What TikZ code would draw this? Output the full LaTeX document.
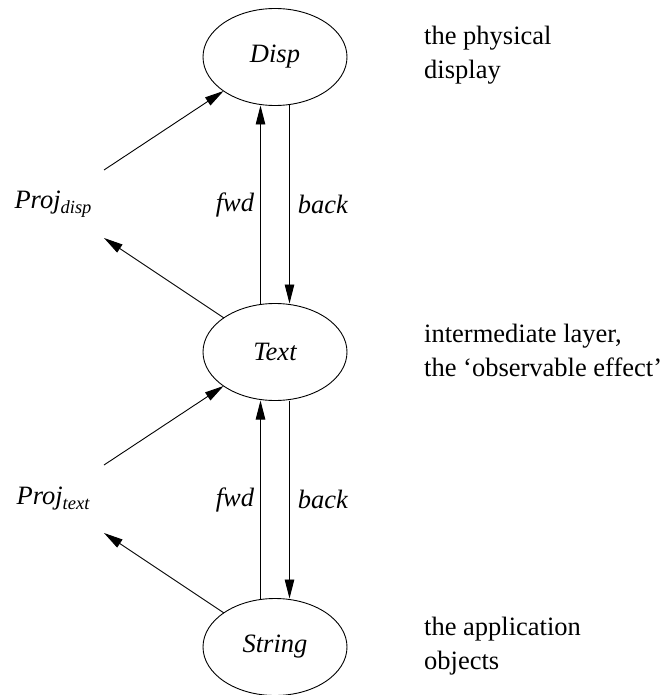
\documentclass[tikz,border=0pt]{standalone}
\usepackage{fontspec}
\setmainfont{Liberation Serif}
\usetikzlibrary{arrows.meta,shapes.geometric}
\newcommand\projsub[1]{\raisebox{-5pt}{\fontsize{18.5}{20}\selectfont\itshape #1}}
\begin{document}
\begin{tikzpicture}[x=1pt,y=-1pt,
  font=\fontsize{26.5}{34}\selectfont,
  layer/.style={ellipse,draw,line width=0.9pt,minimum width=144pt,minimum height=97pt,
    inner sep=0pt,outer sep=0pt,font=\fontsize{26.5}{34}\selectfont\itshape},
  proj/.style={minimum width=102pt,minimum height=68pt,inner sep=0pt,outer sep=0pt},
  note/.style={anchor=west,align=left,inner sep=0pt},
  lbl/.style={font=\fontsize{26.5}{34}\selectfont\itshape,inner sep=0pt},
  arr/.style={line width=0.9pt,-{Triangle[length=19pt,width=9.5pt]}}]
\useasboundingbox (0,0) rectangle (661,695);

% the three layers
\node[layer] (disp) at (275,57) {Disp};
\node[layer] (text) at (275,352) {Text};
\node[layer] (string) at (275,647) {String};

% projections
\node[proj] (pdisp) at (53,204) {\textit{Proj}\projsub{disp}};
\node[proj] (ptext) at (53,499) {\textit{Proj}\projsub{text}};

% descriptions
\node[note] (ndisp) at (424,55) {the physical\\display};
\node[note] (ntext) at (424,350) {intermediate layer,\\the `observable effect'};
\node[note] (nstring) at (424,646) {the application\\objects};

% forward and backward maps
\draw[arr] ([xshift=-14.5pt]text.north) -- node[lbl,left=6pt] {fwd} ([xshift=-14.5pt]disp.south);
\draw[arr] ([xshift=14.5pt]disp.south) -- node[lbl,right=8pt] {back} ([xshift=14.5pt]text.north);
\draw[arr] ([xshift=-14.5pt]string.north) -- node[lbl,left=6pt] {fwd} ([xshift=-14.5pt]text.south);
\draw[arr] ([xshift=14.5pt]text.south) -- node[lbl,right=8pt] {back} ([xshift=14.5pt]string.north);

% projection arrows
\draw[arr] (pdisp.north east) -- (disp);
\draw[arr] (text) -- (pdisp.south east);
\draw[arr] (ptext.north east) -- (text);
\draw[arr] (string) -- (ptext.south east);
\end{tikzpicture}
\end{document}
